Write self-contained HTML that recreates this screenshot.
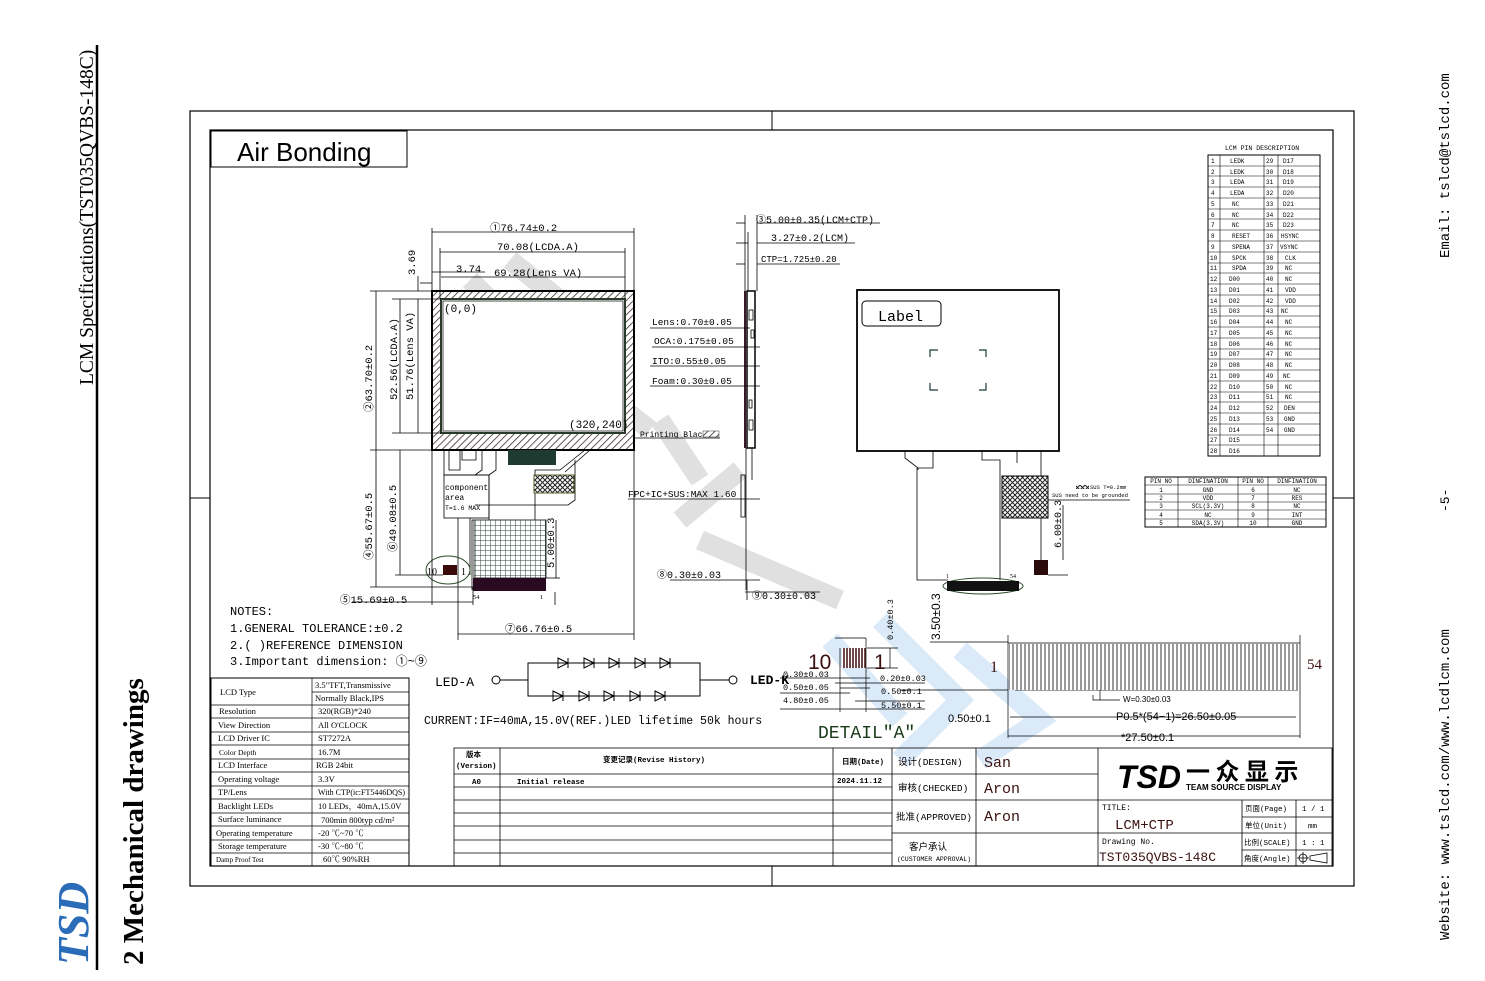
<!DOCTYPE html>
<html><head><meta charset="utf-8"><style>
html,body{margin:0;padding:0;background:#fff;}
svg{display:block;}
text{font-family:"Liberation Serif","Noto Serif CJK SC",serif;}
text.m,.m text{font-family:"Liberation Mono","Noto Sans CJK SC",monospace;}
</style></head><body>
<svg width="1485" height="981" viewBox="0 0 1485 981" xmlns="http://www.w3.org/2000/svg">
<defs>
<pattern id="h" width="5" height="5" patternUnits="userSpaceOnUse" patternTransform="rotate(45)"><rect width="5" height="5" fill="#fff"/><line x1="0" y1="0" x2="0" y2="5" stroke="#3a2a2a" stroke-width="1.6"/></pattern>
<pattern id="x" width="5" height="5" patternUnits="userSpaceOnUse"><rect width="5" height="5" fill="#fff"/><path d="M0 0L5 5M5 0L0 5" stroke="#222" stroke-width="1"/></pattern>
<pattern id="g" width="5" height="5" patternUnits="userSpaceOnUse"><rect width="5" height="5" fill="#fff"/><path d="M0 0H5M0 0V5" stroke="#2a4a3a" stroke-width="1"/></pattern>
<pattern id="f" width="4" height="10" patternUnits="userSpaceOnUse"><rect width="4" height="10" fill="#fff"/><line x1="1" y1="0" x2="1" y2="10" stroke="#333" stroke-width="1"/></pattern>
<pattern id="d" width="3" height="10" patternUnits="userSpaceOnUse"><rect width="3" height="10" fill="#fff"/><line x1="1" y1="0" x2="1" y2="10" stroke="#4a1a1a" stroke-width="1.6"/></pattern>
</defs>

<!-- left margin -->
<line x1="97" y1="45" x2="97" y2="970" stroke="#000" stroke-width="2.5"/>
<text transform="translate(93,385) rotate(-90)" font-size="19.5">LCM Specifications(TST035QVBS-148C)</text>
<text transform="translate(143,965) rotate(-90)" font-size="29" font-weight="bold">2  Mechanical drawings</text>
<text transform="translate(88,965) rotate(-90)" font-size="44" font-weight="bold" font-style="italic" fill="#2a6cb8">TSD</text>
<!-- right margin -->
<text class="m" transform="translate(1449,258) rotate(-90)" font-size="14">Email:  tslcd@tslcd.com</text>
<text class="m" transform="translate(1449,512) rotate(-90)" font-size="13">-5-</text>
<text class="m" transform="translate(1449,940) rotate(-90)" font-size="14">Website:  www.tslcd.com/www.lcdlcm.com</text>

<!-- watermarks -->
<g stroke="#e0e0e0" stroke-width="20" fill="none" stroke-linecap="butt">
<path d="M470 280L540 350M510 260L560 300M590 300L560 360L650 430M570 370L620 420M660 420L700 480M740 470L680 520M700 540L840 600"/>
</g>
<g stroke="#dbeaf9" stroke-width="20" fill="none">
<path d="M830 640L900 720M880 620L960 700L900 760M960 650L1040 720L980 760"/>
</g>

<!-- frames -->
<rect x="190" y="111" width="1164" height="775" fill="none" stroke="#000" stroke-width="1.2"/>
<rect x="210" y="130" width="1123" height="736" fill="none" stroke="#000" stroke-width="1.2"/>
<g stroke="#000"><line x1="772" y1="111" x2="772" y2="130"/><line x1="772" y1="866" x2="772" y2="886"/><line x1="190" y1="498" x2="210" y2="498"/><line x1="1333" y1="498" x2="1354" y2="498"/></g>

<rect x="211" y="131" width="196" height="36" fill="none" stroke="#000"/>
<text x="237" y="161" font-size="26" style="font-family:'Liberation Sans',sans-serif">Air Bonding</text>

<!-- LCD front view -->
<rect x="432" y="291" width="202" height="159" fill="url(#h)" stroke="#000" stroke-width="2"/>
<rect x="441" y="299" width="184" height="134" fill="#fff" stroke="#2a3a2a" stroke-width="2"/>
<rect x="443" y="301" width="180" height="130" fill="#fff" stroke="#222" stroke-width="0.8"/>
<text class="m" x="444" y="312" font-size="11">(0,0)</text>
<text class="m" x="569" y="428" font-size="11">(320,240)</text>
<!-- FPC front -->
<g stroke="#000" fill="none" stroke-width="0.8">
<path d="M449 450V470H460V450M462 450V460H476V450"/>
<path d="M444 450V475H489V530"/><path d="M482 450V470L475 475"/>
<path d="M496 450V470L489 475"/>
<path d="M590 450L565 472"/><path d="M585 450L560 470H535V520L535 520H505L472 520V590"/>
<path d="M575 460V500L568 505H475"/>
<rect x="444" y="475" width="45" height="43"/>
<path d="M458 518V575M470 518V575"/>
</g>
<rect x="508" y="450" width="48" height="15" fill="#1f3a30"/>
<rect x="534" y="475" width="40" height="18" fill="url(#x)" stroke="#5a5a2a"/>
<text class="m" x="445" y="490" font-size="8">component</text>
<text class="m" x="445" y="500" font-size="8">area</text>
<text class="m" x="445" y="510" font-size="6.5">T=1.6 MAX</text>
<rect x="474" y="520" width="72" height="58" fill="url(#g)" stroke="#333"/>
<rect x="473" y="578" width="73" height="13" fill="#2a0a20"/>
<rect x="443" y="565" width="14" height="10" fill="#3a0a0a"/>
<ellipse cx="448" cy="570" rx="22" ry="14" fill="none" stroke="#2a4a2a"/>
<text x="427" y="575" font-size="10">10</text><text x="461" y="575" font-size="10">1</text>
<text x="473" y="599" font-size="6.5">54</text><text x="540" y="599" font-size="6.5">1</text>

<!-- dimension lines front -->
<g stroke="#000" stroke-width="0.8" fill="none">
<line x1="432" y1="232" x2="634" y2="232"/><line x1="432" y1="228" x2="432" y2="291"/><line x1="634" y1="228" x2="634" y2="640"/>
<line x1="440" y1="252" x2="625" y2="252"/><line x1="440" y1="248" x2="440" y2="299"/><line x1="625" y1="248" x2="625" y2="299"/>
<line x1="441" y1="277" x2="625" y2="277"/><line x1="432" y1="272" x2="485" y2="272"/>
<line x1="418" y1="276" x2="418" y2="291"/><line x1="420" y1="283" x2="432" y2="283"/>
<line x1="370" y1="291" x2="432" y2="291"/><line x1="376" y1="291" x2="376" y2="450"/><line x1="370" y1="450" x2="432" y2="450"/>
<line x1="392" y1="299" x2="441" y2="299"/><line x1="400" y1="299" x2="400" y2="433"/><line x1="392" y1="433" x2="441" y2="433"/>
<line x1="418" y1="299" x2="418" y2="433"/>
<line x1="376" y1="450" x2="376" y2="587"/><line x1="370" y1="587" x2="473" y2="587"/>
<line x1="400" y1="450" x2="400" y2="575"/><line x1="395" y1="575" x2="443" y2="575"/>
<line x1="432" y1="450" x2="432" y2="605"/><line x1="473" y1="587" x2="473" y2="605"/>
<line x1="352" y1="602" x2="473" y2="602"/>
<line x1="458" y1="575" x2="458" y2="640"/><line x1="458" y1="634" x2="634" y2="634"/>
<line x1="556" y1="520" x2="556" y2="578"/><line x1="546" y1="578" x2="560" y2="578"/>
<line x1="555" y1="592" x2="555" y2="605"/>
<line x1="634" y1="438" x2="720" y2="438"/>
</g>
<g class="m" font-size="10.5">
<text x="490" y="231">①76.74±0.2</text>
<text x="497" y="250">70.08(LCDA.A)</text>
<text x="456" y="272">3.74</text>
<text x="494" y="276">69.28(Lens VA)</text>
<text transform="translate(415,275) rotate(-90)">3.69</text>
<text transform="translate(372,412) rotate(-90)">②63.70±0.2</text>
<text transform="translate(397,400) rotate(-90)">52.56(LCDA.A)</text>
<text transform="translate(413,400) rotate(-90)">51.76(Lens VA)</text>
<text transform="translate(372,560) rotate(-90)">④55.67±0.5</text>
<text transform="translate(396,552) rotate(-90)">⑥49.08±0.5</text>
<text transform="translate(554,568) rotate(-90)">5.00±0.3</text>
<text x="340" y="603">⑤15.69±0.5</text>
<text x="505" y="632">⑦66.76±0.5</text>
</g>

<!-- side view -->
<g stroke="#000" stroke-width="0.8" fill="none">
<rect x="747" y="291" width="8" height="157" stroke-width="1.5"/>
<line x1="745" y1="291" x2="745" y2="448" stroke="#3a1a2a" stroke-width="2"/>
<rect x="749" y="310" width="4" height="10"/><rect x="751" y="330" width="3" height="8"/><rect x="749" y="400" width="3" height="8"/><rect x="749" y="420" width="4" height="10"/>
<line x1="746" y1="448" x2="746" y2="590"/><line x1="752" y1="448" x2="752" y2="480"/>
<rect x="741" y="475" width="4" height="42"/>
<line x1="745" y1="215" x2="745" y2="291"/><line x1="757" y1="215" x2="757" y2="291"/><line x1="748" y1="232" x2="748" y2="291"/>
<line x1="736" y1="223" x2="745" y2="223"/><line x1="757" y1="223" x2="880" y2="223"/>
<line x1="736" y1="243" x2="748" y2="243"/><line x1="757" y1="243" x2="855" y2="243"/>
<line x1="736" y1="264" x2="745" y2="264"/><line x1="757" y1="264" x2="840" y2="264"/>
<line x1="650" y1="328" x2="750" y2="328"/><line x1="652" y1="347" x2="760" y2="347"/>
<line x1="650" y1="366" x2="760" y2="366"/><line x1="650" y1="386" x2="760" y2="386"/>
<line x1="628" y1="499" x2="760" y2="499"/>
<line x1="670" y1="580" x2="760" y2="580"/><line x1="745" y1="592" x2="820" y2="592"/><line x1="747" y1="580" x2="747" y2="600"/>
</g>
<g class="m" font-size="10">
<text x="756" y="223">③5.00±0.35(LCM+CTP)</text>
<text x="771" y="241">3.27±0.2(LCM)</text>
<text x="761" y="262" font-size="9">CTP=1.725±0.20</text>
<text x="652" y="325" font-size="9.5">Lens:0.70±0.05</text>
<text x="654" y="344" font-size="9.5">OCA:0.175±0.05</text>
<text x="652" y="364" font-size="9.5">ITO:0.55±0.05</text>
<text x="652" y="384" font-size="9.5">Foam:0.30±0.05</text>
<text x="640" y="437" font-size="8">Printing Black</text>
<text x="628" y="497" font-size="9.5">FPC+IC+SUS:MAX 1.60</text>
<text x="657" y="578">⑧0.30±0.03</text>
<text x="752" y="599">⑨0.30±0.03</text>
</g>
<rect x="703" y="431" width="16" height="6" fill="url(#h)" stroke="#333" stroke-width="0.5"/>

<!-- back view -->
<rect x="857" y="290" width="202" height="161" fill="#fff" stroke="#000" stroke-width="1.8"/>
<rect x="862" y="301" width="79" height="25" rx="4" fill="none" stroke="#000"/>
<text class="m" x="878" y="321" font-size="15">Label</text>
<g stroke="#1a3a3a" stroke-width="1.2" fill="none"><path d="M930 357V350H938M979 350H986V357M930 383V390H938M979 390H986V383"/></g>
<g stroke="#000" stroke-width="0.8" fill="none">
<path d="M905 451V458L918 468H933V451M918 468L918 470"/>
<path d="M917 468V580H948"/><path d="M982 451V460H1000V580"/><path d="M1017 451V463"/><path d="M1041 451V560"/>
<line x1="1048" y1="500" x2="1130" y2="500"/><line x1="1063" y1="505" x2="1063" y2="560"/><line x1="1048" y1="575" x2="1068" y2="575"/>
</g>
<rect x="1002" y="476" width="46" height="42" fill="url(#x)" stroke="#000"/>
<rect x="1034" y="560" width="14" height="15" fill="#2a0a0a"/>
<ellipse cx="983" cy="586" rx="40" ry="8" fill="none" stroke="#2a4a2a"/>
<rect x="947" y="581" width="72" height="10" fill="#111"/>
<text x="946" y="578" font-size="6">1</text><text x="1010" y="578" font-size="6">54</text>
<text class="m" transform="translate(1061,548) rotate(-90)" font-size="10">6.00±0.3</text>
<rect x="1076" y="485" width="13" height="4" fill="url(#x)"/>
<text class="m" x="1090" y="489" font-size="5.5">SUS T=0.2mm</text>
<text class="m" x="1052" y="497" font-size="5.5">SUS need to be grounded</text>

<!-- Pin table -->
<text class="m" x="1225" y="150" font-size="6.5">LCM PIN DESCRIPTION</text>
<rect x="1208" y="155" width="112" height="301" fill="none" stroke="#000"/>
<g stroke="#000" stroke-width="0.6">
<line x1="1220" y1="155" x2="1220" y2="456"/><line x1="1264" y1="155" x2="1264" y2="456"/><line x1="1278" y1="155" x2="1278" y2="456"/>
<line x1="1208" y1="166" x2="1320" y2="166"/><line x1="1208" y1="176" x2="1320" y2="176"/><line x1="1208" y1="187" x2="1320" y2="187"/><line x1="1208" y1="198" x2="1320" y2="198"/><line x1="1208" y1="209" x2="1320" y2="209"/><line x1="1208" y1="219" x2="1320" y2="219"/><line x1="1208" y1="230" x2="1320" y2="230"/><line x1="1208" y1="241" x2="1320" y2="241"/><line x1="1208" y1="252" x2="1320" y2="252"/><line x1="1208" y1="263" x2="1320" y2="263"/><line x1="1208" y1="273" x2="1320" y2="273"/><line x1="1208" y1="284" x2="1320" y2="284"/><line x1="1208" y1="295" x2="1320" y2="295"/><line x1="1208" y1="306" x2="1320" y2="306"/><line x1="1208" y1="316" x2="1320" y2="316"/><line x1="1208" y1="327" x2="1320" y2="327"/><line x1="1208" y1="338" x2="1320" y2="338"/><line x1="1208" y1="349" x2="1320" y2="349"/><line x1="1208" y1="359" x2="1320" y2="359"/><line x1="1208" y1="370" x2="1320" y2="370"/><line x1="1208" y1="381" x2="1320" y2="381"/><line x1="1208" y1="392" x2="1320" y2="392"/><line x1="1208" y1="402" x2="1320" y2="402"/><line x1="1208" y1="413" x2="1320" y2="413"/><line x1="1208" y1="424" x2="1320" y2="424"/><line x1="1208" y1="435" x2="1320" y2="435"/><line x1="1208" y1="445" x2="1320" y2="445"/>
</g>
<g class="m" font-size="6">
<text x="1211" y="163">1</text><text x="1230" y="163">LEDK</text><text x="1266" y="163">29</text><text x="1283" y="163">D17</text>
<text x="1211" y="174">2</text><text x="1230" y="174">LEDK</text><text x="1266" y="174">30</text><text x="1283" y="174">D18</text>
<text x="1211" y="184">3</text><text x="1230" y="184">LEDA</text><text x="1266" y="184">31</text><text x="1283" y="184">D19</text>
<text x="1211" y="195">4</text><text x="1230" y="195">LEDA</text><text x="1266" y="195">32</text><text x="1283" y="195">D20</text>
<text x="1211" y="206">5</text><text x="1232" y="206">NC</text><text x="1266" y="206">33</text><text x="1283" y="206">D21</text>
<text x="1211" y="217">6</text><text x="1232" y="217">NC</text><text x="1266" y="217">34</text><text x="1283" y="217">D22</text>
<text x="1211" y="227">7</text><text x="1232" y="227">NC</text><text x="1266" y="227">35</text><text x="1283" y="227">D23</text>
<text x="1211" y="238">8</text><text x="1232" y="238">RESET</text><text x="1266" y="238">36</text><text x="1281" y="238">HSYNC</text>
<text x="1211" y="249">9</text><text x="1232" y="249">SPENA</text><text x="1266" y="249">37</text><text x="1280" y="249">VSYNC</text>
<text x="1210" y="260">10</text><text x="1232" y="260">SPCK</text><text x="1266" y="260">38</text><text x="1285" y="260">CLK</text>
<text x="1210" y="270">11</text><text x="1232" y="270">SPDA</text><text x="1266" y="270">39</text><text x="1285" y="270">NC</text>
<text x="1210" y="281">12</text><text x="1229" y="281">D00</text><text x="1266" y="281">40</text><text x="1285" y="281">NC</text>
<text x="1210" y="292">13</text><text x="1229" y="292">D01</text><text x="1266" y="292">41</text><text x="1285" y="292">VDD</text>
<text x="1210" y="303">14</text><text x="1229" y="303">D02</text><text x="1266" y="303">42</text><text x="1285" y="303">VDD</text>
<text x="1210" y="313">15</text><text x="1229" y="313">D03</text><text x="1266" y="313">43</text><text x="1281" y="313">NC</text>
<text x="1210" y="324">16</text><text x="1229" y="324">D04</text><text x="1266" y="324">44</text><text x="1285" y="324">NC</text>
<text x="1210" y="335">17</text><text x="1229" y="335">D05</text><text x="1266" y="335">45</text><text x="1285" y="335">NC</text>
<text x="1210" y="346">18</text><text x="1229" y="346">D06</text><text x="1266" y="346">46</text><text x="1285" y="346">NC</text>
<text x="1210" y="356">19</text><text x="1229" y="356">D07</text><text x="1266" y="356">47</text><text x="1285" y="356">NC</text>
<text x="1210" y="367">20</text><text x="1229" y="367">D08</text><text x="1266" y="367">48</text><text x="1285" y="367">NC</text>
<text x="1210" y="378">21</text><text x="1229" y="378">D09</text><text x="1266" y="378">49</text><text x="1283" y="378">NC</text>
<text x="1210" y="389">22</text><text x="1229" y="389">D10</text><text x="1266" y="389">50</text><text x="1285" y="389">NC</text>
<text x="1210" y="399">23</text><text x="1229" y="399">D11</text><text x="1266" y="399">51</text><text x="1285" y="399">NC</text>
<text x="1210" y="410">24</text><text x="1229" y="410">D12</text><text x="1266" y="410">52</text><text x="1284" y="410">DEN</text>
<text x="1210" y="421">25</text><text x="1229" y="421">D13</text><text x="1266" y="421">53</text><text x="1284" y="421">GND</text>
<text x="1210" y="432">26</text><text x="1229" y="432">D14</text><text x="1266" y="432">54</text><text x="1284" y="432">GND</text>
<text x="1210" y="442">27</text><text x="1229" y="442">D15</text>
<text x="1210" y="453">28</text><text x="1229" y="453">D16</text>
</g>

<!-- CTP table -->
<rect x="1145" y="477" width="181" height="50" fill="none" stroke="#000"/>
<g stroke="#000" stroke-width="0.6">
<line x1="1178" y1="477" x2="1178" y2="527"/><line x1="1238" y1="477" x2="1238" y2="527"/><line x1="1268" y1="477" x2="1268" y2="527"/>
<line x1="1145" y1="485" x2="1326" y2="485"/><line x1="1145" y1="494" x2="1326" y2="494"/><line x1="1145" y1="502" x2="1326" y2="502"/><line x1="1145" y1="510" x2="1326" y2="510"/><line x1="1145" y1="519" x2="1326" y2="519"/>
</g>
<g class="m" font-size="6" text-anchor="middle">
<text x="1161" y="483">PIN NO</text><text x="1208" y="483">DINFINATION</text><text x="1253" y="483">PIN NO</text><text x="1297" y="483">DINFINATION</text>
<text x="1161" y="492">1</text><text x="1208" y="492">GND</text><text x="1253" y="492">6</text><text x="1297" y="492">NC</text>
<text x="1161" y="500">2</text><text x="1208" y="500">VDD</text><text x="1253" y="500">7</text><text x="1297" y="500">RES</text>
<text x="1161" y="508">3</text><text x="1208" y="508">SCL(3.3V)</text><text x="1253" y="508">8</text><text x="1297" y="508">NC</text>
<text x="1161" y="517">4</text><text x="1208" y="517">NC</text><text x="1253" y="517">9</text><text x="1297" y="517">INT</text>
<text x="1161" y="525">5</text><text x="1208" y="525">SDA(3.3V)</text><text x="1253" y="525">10</text><text x="1297" y="525">GND</text>
</g>

<!-- notes -->
<g class="m" font-size="12">
<text x="230" y="615">NOTES:</text>
<text x="230" y="632">1.GENERAL TOLERANCE:±0.2</text>
<text x="230" y="649">2.(  )REFERENCE DIMENSION</text>
<text x="230" y="665">3.Important dimension: ①~⑨</text>
</g>

<!-- LED circuit -->
<g stroke="#000" stroke-width="1" fill="none">
<circle cx="496" cy="680" r="4"/><circle cx="733" cy="680" r="4"/>
<path d="M500 680H528V663H700V680H729M528 680V696H700V680"/>
<path d="M558 658L568 663L558 668ZM584 658L594 663L584 668ZM609 658L619 663L609 668ZM635 658L645 663L635 668ZM660 658L670 663L660 668Z"/>
<path d="M568 658V668M594 658V668M619 658V668M645 658V668M670 658V668"/>
<path d="M553 691L563 696L553 701ZM579 691L589 696L579 701ZM604 691L614 696L604 701ZM630 691L640 696L630 701ZM655 691L665 696L655 701Z"/>
<path d="M563 691V701M589 691V701M614 691V701M640 691V701M665 691V701"/>
</g>
<text class="m" x="435" y="686" font-size="13">LED-A</text>
<text class="m" x="750" y="684" font-size="13" font-weight="bold">LED-K</text>
<text class="m" x="424" y="724" font-size="11.5">CURRENT:IF=40mA,15.0V(REF.)LED lifetime 50k hours</text>

<!-- Detail A -->
<rect x="842" y="648" width="25" height="20" fill="url(#d)"/>
<g stroke="#000" stroke-width="0.7" fill="none">
<path d="M835 638H866M840 648V712M866 638V712M867 648H898M867 668H898M890 648V668"/>
<path d="M780 678H870M840 688H870M780 693H850M855 701H925M780 709H925M835 683H925"/>
<path d="M1008 635V738M1300 635V738M930 642H1008M900 690H1008M1015 690H1298"/>
<line x1="1008" y1="643" x2="1300" y2="643"/>
<line x1="1010" y1="717" x2="1296" y2="717"/><line x1="1008" y1="736" x2="1300" y2="736"/>
<path d="M1093 695V700H1120M1100 690V700"/>
</g>
<rect x="1009" y="644" width="290" height="46" fill="url(#f)"/>
<g class="m" font-size="8.5">
<text x="783" y="677">0.30±0.03</text><text x="783" y="690">0.50±0.05</text><text x="783" y="703">4.80±0.05</text>
<text x="880" y="681">0.20±0.03</text><text x="881" y="694">0.50±0.1</text><text x="881" y="708">5.50±0.1</text>
<text transform="translate(893,640) rotate(-90)">0.40±0.3</text>
</g>
<text x="808" y="669" font-size="21" fill="#3a1010" style="font-family:'Liberation Sans',sans-serif">10</text>
<text x="874" y="669" font-size="21" fill="#3a1010" style="font-family:'Liberation Sans',sans-serif">1</text>
<text class="m" x="818" y="738" font-size="18" fill="#1a3a1a">DETAIL"A"</text>
<text transform="translate(940,640) rotate(-90)" font-size="12" style="font-family:'Liberation Sans',sans-serif">3.50±0.3</text>
<text x="990" y="672" font-size="16" fill="#3a1010">1</text>
<text x="1307" y="669" font-size="15" fill="#3a1010">54</text>
<g font-size="11">
<text x="948" y="722" style="font-family:'Liberation Sans',sans-serif">0.50±0.1</text>
<text x="1116" y="720" style="font-family:'Liberation Sans',sans-serif">P0.5*(54−1)=26.50±0.05</text>
<text x="1121" y="741" style="font-family:'Liberation Sans',sans-serif">*27.50±0.1</text>
<text x="1123" y="702" font-size="8" style="font-family:'Liberation Sans',sans-serif">W=0.30±0.03</text>
</g>

<!-- spec table -->
<rect x="211" y="678" width="198" height="188" fill="none" stroke="#000"/>
<g stroke="#000" stroke-width="0.7">
<line x1="312" y1="678" x2="312" y2="866"/>
<line x1="312" y1="692" x2="409" y2="692"/>
<line x1="211" y1="705" x2="409" y2="705"/><line x1="211" y1="718" x2="409" y2="718"/><line x1="211" y1="732" x2="409" y2="732"/><line x1="211" y1="745" x2="409" y2="745"/><line x1="211" y1="759" x2="409" y2="759"/><line x1="211" y1="772" x2="409" y2="772"/><line x1="211" y1="786" x2="409" y2="786"/><line x1="211" y1="799" x2="409" y2="799"/><line x1="211" y1="813" x2="409" y2="813"/><line x1="211" y1="826" x2="409" y2="826"/><line x1="211" y1="840" x2="409" y2="840"/><line x1="211" y1="853" x2="409" y2="853"/>
</g>
<g font-size="8.5">
<text x="220" y="695">LCD Type</text><text x="315" y="688">3.5"TFT,Transmissive</text><text x="315" y="701">Normally Black,IPS</text>
<text x="219" y="714">Resolution</text><text x="318" y="714">320(RGB)*240</text>
<text x="218" y="728">View Direction</text><text x="318" y="728">All O'CLOCK</text>
<text x="218" y="741">LCD Driver IC</text><text x="318" y="741">ST7272A</text>
<text x="219" y="755" font-size="7.5">Color Depth</text><text x="318" y="755">16.7M</text>
<text x="218" y="768">LCD Interface</text><text x="316" y="768">RGB 24bit</text>
<text x="218" y="782">Operating voltage</text><text x="318" y="782">3.3V</text>
<text x="218" y="795">TP/Lens</text><text x="318" y="795" font-size="8">With CTP(ic:FT5446DQS)</text>
<text x="218" y="809">Backlight LEDs</text><text x="318" y="809">10 LEDs，40mA,15.0V</text>
<text x="218" y="822">Surface luminance</text><text x="321" y="823">700min 800typ cd/m²</text>
<text x="216" y="836">Operating temperature</text><text x="318" y="836">-20 ℃~70 ℃</text>
<text x="218" y="849">Storage temperature</text><text x="318" y="849">-30 ℃~80 ℃</text>
<text x="216" y="862" font-size="7">Damp Proof Test</text><text x="323" y="862">60℃  90%RH</text>
</g>

<!-- revision + title block -->
<g stroke="#000" stroke-width="0.8" fill="none">
<rect x="454" y="748" width="878" height="118"/>
<line x1="500" y1="748" x2="500" y2="866"/><line x1="833" y1="748" x2="833" y2="866"/><line x1="892" y1="748" x2="892" y2="866"/>
<line x1="976" y1="748" x2="976" y2="866"/><line x1="1098" y1="748" x2="1098" y2="866"/>
<line x1="454" y1="774" x2="892" y2="774"/><line x1="454" y1="787" x2="892" y2="787"/><line x1="454" y1="800" x2="892" y2="800"/><line x1="454" y1="813" x2="892" y2="813"/><line x1="454" y1="826" x2="892" y2="826"/><line x1="454" y1="840" x2="892" y2="840"/><line x1="454" y1="853" x2="892" y2="853"/>
<line x1="892" y1="774" x2="1098" y2="774"/><line x1="892" y1="800" x2="1332" y2="800"/><line x1="892" y1="833" x2="1098" y2="833"/>
<line x1="1242" y1="800" x2="1242" y2="866"/><line x1="1296" y1="800" x2="1296" y2="866"/>
<line x1="1242" y1="817" x2="1332" y2="817"/><line x1="1098" y1="833" x2="1332" y2="833"/><line x1="1242" y1="850" x2="1332" y2="850"/>
</g>
<g font-size="7.5" class="m">
<text x="466" y="757" font-weight="bold">版本</text><text x="456" y="768" font-weight="bold">(Version)</text>
<text x="603" y="762" font-weight="bold">变更记录(Revise History)</text>
<text x="472" y="784" font-weight="bold">A0</text><text x="517" y="784" font-weight="bold">Initial release</text>
<text x="842" y="764" font-weight="bold">日期(Date)</text><text x="837" y="783" font-weight="bold">2024.11.12</text>
</g>
<g class="m" font-size="9.5">
<text x="898" y="765">设计(DESIGN)</text><text x="898" y="791">审核(CHECKED)</text><text x="896" y="820">批准(APPROVED)</text>
<text x="909" y="850">客户承认</text><text x="897" y="861" font-size="6.5">(CUSTOMER APPROVAL)</text>
</g>
<g class="m" font-size="15" fill="#3a1010"><text x="984" y="767">San</text><text x="984" y="793">Aron</text><text x="984" y="821">Aron</text></g>
<text x="1117" y="788" font-size="32" font-weight="bold" font-style="italic" style="font-family:'Liberation Sans',sans-serif">TSD</text>
<text x="1186" y="780" font-size="24" font-weight="bold" style="font-family:'Noto Sans CJK SC',sans-serif">一 众 显 示</text>
<text x="1186" y="790" font-size="8" font-weight="bold" style="font-family:'Liberation Sans',sans-serif">TEAM SOURCE DISPLAY</text>
<g class="m">
<text x="1102" y="810" font-size="8">TITLE:</text>
<text x="1115" y="829" font-size="14" fill="#3a1010">LCM+CTP</text>
<text x="1102" y="844" font-size="8">Drawing No.</text>
<text x="1099" y="861" font-size="13" fill="#3a1010">TST035QVBS-148C</text>
<g font-size="7.5"><text x="1245" y="811">页面(Page)</text><text x="1245" y="828">单位(Unit)</text><text x="1244" y="845">比例(SCALE)</text><text x="1244" y="861">角度(Angle)</text>
<text x="1302" y="811">1 / 1</text><text x="1308" y="828">mm</text><text x="1302" y="845">1 : 1</text></g>
</g>
<g stroke="#000" stroke-width="0.8" fill="none"><circle cx="1303" cy="858" r="4"/><path d="M1297 858H1309M1303 852V864M1310 856L1327 853V863L1310 860Z"/></g>
</svg>
</body></html>
